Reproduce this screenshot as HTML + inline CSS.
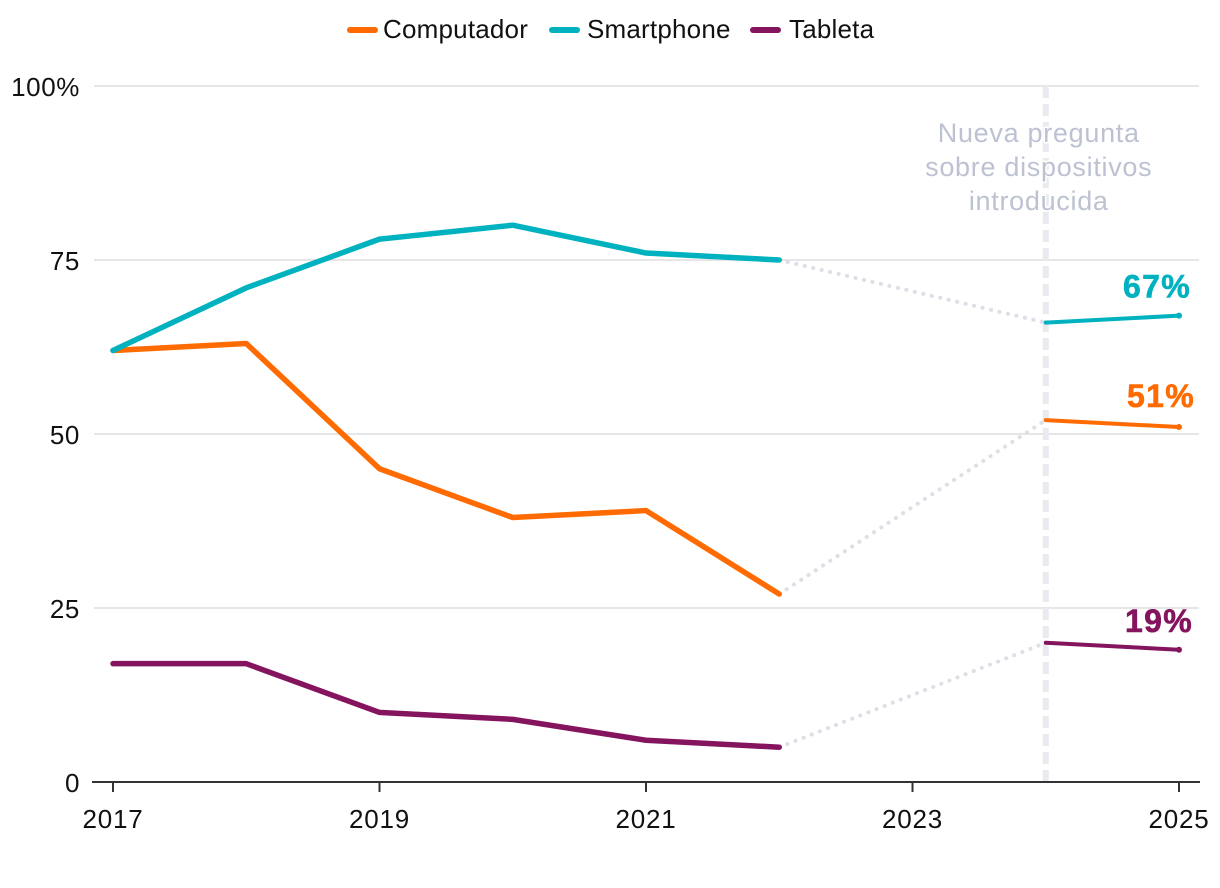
<!DOCTYPE html>
<html lang="es">
<head>
<meta charset="utf-8">
<title>Dispositivos</title>
<style>
html,body{margin:0;padding:0;background:#fff;width:1220px;height:888px;overflow:hidden}
svg{display:block;font-family:"Liberation Sans",sans-serif}
</style>
</head>
<body>
<svg id="chart" xmlns="http://www.w3.org/2000/svg" width="1220" height="888" viewBox="0 0 1220 888"></svg>
<script>
const years = [2017, 2018, 2019, 2020, 2021, 2022, 2023, 2024, 2025];
const computador = [62, 63, 45, 38, 39, 27, null, 52, 51];
const smartphone = [62, 71, 78, 80, 76, 75, null, 66, 67];
const tableta = [17, 17, 10, 9, 6, 5, null, 20, 19];
const yTicks = [0, 25, 50, 75, 100];
const xTicks = [2017, 2019, 2021, 2023, 2025];
const seriesNames = ['Computador', 'Smartphone', 'Tableta'];
const noteLines = ['Nueva pregunta', 'sobre dispositivos', 'introducida'];
const noteYear = 2024;

const svg = document.getElementById('chart');
const NS = 'http://www.w3.org/2000/svg';
const xScale = v => 113 + (v - 2017) * 133.25;
const yScale = v => 782 - v * 6.96;

function make(tag, attrs, text) {
  const el = document.createElementNS(NS, tag);
  for (const k in attrs) el.setAttribute(k, attrs[k]);
  if (text !== undefined) el.textContent = text;
  svg.appendChild(el);
  return el;
}
function pointsOf(values, from, to) {
  const pts = [];
  for (let i = from; i <= to; i++) pts.push(xScale(years[i]) + ',' + yScale(values[i]));
  return pts.join(' ');
}

// gridlines and y labels
yTicks.forEach(t => {
  if (t > 0) {
    const g = make('line', {x1: 94, x2: 1199, y1: yScale(t), y2: yScale(t), stroke: '#e6e6e6', 'stroke-width': 2});
    
    
  }
  const lab = make('text', {x: 80, y: yScale(t) + 10, 'text-anchor': 'end', 'font-size': 26, fill: '#111', 'letter-spacing': 0.6}, t === 100 ? '100%' : String(t));
  
  
});

// note reference line
const refLine = make('line', {x1: xScale(noteYear), x2: xScale(noteYear), y1: 86, y2: 782, stroke: '#e8eaef', 'stroke-width': 6, 'stroke-dasharray': '12 6'});



noteLines.forEach((line, i) => {
  const t = make('text', {x: xScale(noteYear) - 7, y: 142 + i * 34, 'text-anchor': 'middle', 'font-size': 27, fill: '#bcc2d2', 'letter-spacing': 0.7, stroke: '#fff', 'stroke-width': 3, 'paint-order': 'stroke'}, line);
  
  
});

// x axis
const axis = make('line', {x1: 92, x2: 1200, y1: 782, y2: 782, stroke: '#333', 'stroke-width': 2});


xTicks.forEach(y => {
  const tick = make('line', {x1: xScale(y), x2: xScale(y), y1: 782, y2: 792, stroke: '#333', 'stroke-width': 2});
  
  
  const lab = make('text', {x: xScale(y), y: 828, 'text-anchor': 'middle', 'font-size': 26, fill: '#111', 'letter-spacing': 0.8}, String(y));
  
  
});

// series
const seriesList = [
  {key: 'computador', values: computador, color: '#ff6b00', labelX: 1195},
  {key: 'smartphone', values: smartphone, color: '#00b2bf', labelX: 1191},
  {key: 'tableta', values: tableta, color: '#85145f', labelX: 1193}
];
const labelOffset = {computador: 20, smartphone: 18, tableta: 18};

seriesList.forEach(s => {
  const v = s.values;
  const con = make('polyline', {points: xScale(years[5]) + ',' + yScale(v[5]) + ' ' + xScale(years[7]) + ',' + yScale(v[7]), fill: 'none', stroke: '#dcdfe6', 'stroke-width': 4, 'stroke-dasharray': '0.1 8.6', 'stroke-linecap': 'round'});
  
  
});
seriesList.forEach(s => {
  const v = s.values;
  const first = make('polyline', {points: pointsOf(v, 0, 5), fill: 'none', stroke: s.color, 'stroke-width': 5.5, 'stroke-linejoin': 'round', 'stroke-linecap': 'round'});
  
  
  const second = make('polyline', {points: pointsOf(v, 7, 8), fill: 'none', stroke: s.color, 'stroke-width': 4, 'stroke-linecap': 'round'});
  
  
  const dot = make('circle', {cx: xScale(years[8]), cy: yScale(v[8]), r: 3, fill: s.color});
  
  
  const lab = make('text', {x: s.labelX, y: yScale(v[8]) - labelOffset[s.key], 'text-anchor': 'end', 'font-size': 32, 'font-weight': 700, fill: s.color, stroke: s.color, 'stroke-width': 0.6, 'letter-spacing': 1.3}, v[8] + '%');
  
  
});

// legend
const legendSwatchX = [350, 552, 753];
const legendTextX = [383, 587, 789];
seriesList.forEach((s, i) => {
  const sw = make('line', {x1: legendSwatchX[i], x2: legendSwatchX[i] + 25, y1: 30, y2: 30, stroke: s.color, 'stroke-width': 6, 'stroke-linecap': 'round'});
  
  
  const t = make('text', {x: legendTextX[i], y: 38, 'font-size': 26, fill: '#111', 'letter-spacing': 0.2}, seriesNames[i]);
  
  
});
</script>
</body>
</html>
